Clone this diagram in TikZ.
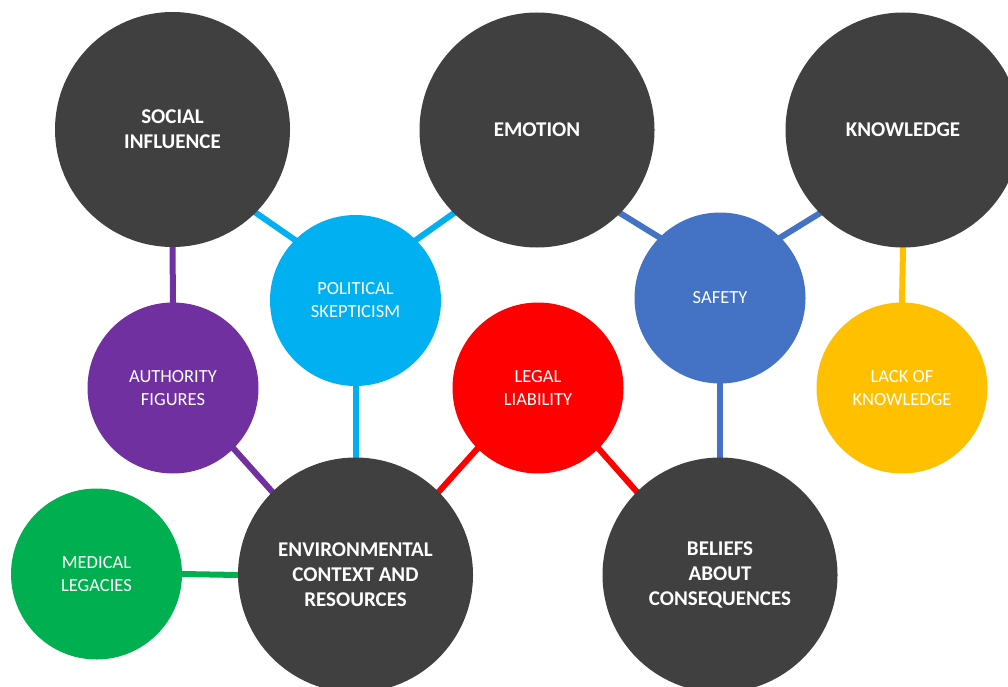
\documentclass[tikz,border=0pt]{standalone}
\usepackage{fontspec}
\setmainfont{Carlito}
\usetikzlibrary{backgrounds}
\definecolor{darkc}{HTML}{404040}
\definecolor{cyanc}{HTML}{00B0F0}
\definecolor{bluec}{HTML}{4472C4}
\definecolor{purplec}{HTML}{7030A0}
\definecolor{redc}{HTML}{FF0000}
\definecolor{yellowc}{HTML}{FFC000}
\definecolor{greenc}{HTML}{00B050}
\tikzset{
  bigc/.style={circle, fill=darkc, minimum size=235pt, inner sep=0pt, text=white,
    font=\fontsize{21}{25}\selectfont\bfseries, align=center},
  smallc/.style={circle, fill=#1, minimum size=171pt, inner sep=0pt, text=white,
    font=\fontsize{18.5}{23}\selectfont, align=center},
  link/.style={draw=#1, line width=6pt, shorten <=-4pt, shorten >=-4pt}
}
\begin{document}
\begin{tikzpicture}[x=1pt,y=-1pt]
\useasboundingbox (0,0) rectangle (1008,687);
\clip (0,0) rectangle (1008,687);
\node[bigc] (soc) at (172.5,129.5) {SOCIAL\\INFLUENCE};
\node[bigc] (emo) at (537,130) {EMOTION};
\node[bigc] (know) at (903,130) {KNOWLEDGE};
\node[bigc] (env) at (355.5,575) {ENVIRONMENTAL\\CONTEXT AND\\RESOURCES};
\node[bigc] (bel) at (720,575) {BELIEFS\\ABOUT\\CONSEQUENCES};
\node[smallc=cyanc] (pol) at (355.5,300.5) {POLITICAL\\SKEPTICISM};
\node[smallc=bluec] (saf) at (720,298) {SAFETY};
\node[smallc=purplec] (auth) at (173,388) {AUTHORITY\\FIGURES};
\node[smallc=redc] (leg) at (538,388) {LEGAL\\LIABILITY};
\node[smallc=yellowc] (lack) at (902,388) {LACK OF\\KNOWLEDGE};
\node[smallc=greenc] (med) at (96.5,574) {MEDICAL\\LEGACIES};
\begin{scope}[on background layer]
\draw[link=purplec] (soc.south) -- (auth.north);
\draw[link=purplec] (auth.-45) -- (env.135);
\draw[link=cyanc] (soc.-45) -- (pol.135);
\draw[link=cyanc] (emo.-135) -- (pol.45);
\draw[link=cyanc] (pol.south) -- (env.north);
\draw[link=bluec] (emo.-45) -- (saf.135);
\draw[link=bluec] (know.-135) -- (saf.45);
\draw[link=bluec] (saf.south) -- (bel.north);
\draw[link=yellowc] (know.south) -- (lack.north);
\draw[link=redc] (leg.-135) -- (env.45);
\draw[link=redc] (leg.-45) -- (bel.135);
\draw[link=greenc] (med.east) -- (env.west);
\end{scope}
\end{tikzpicture}
\end{document}
